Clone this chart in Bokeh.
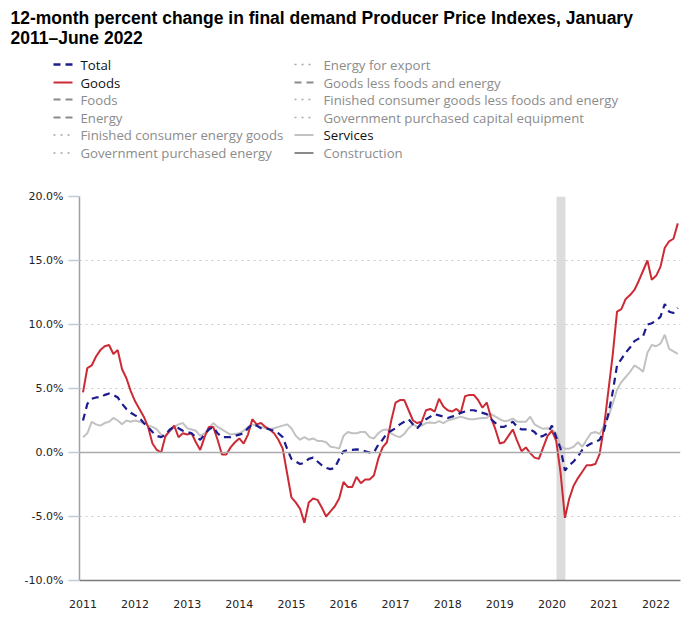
import pandas as pd
from bokeh.plotting import figure
from bokeh.models import Range1d, FixedTicker, BoxAnnotation, Span
from bokeh.layouts import column
from bokeh.embed import file_html
from bokeh.resources import INLINE
from bokeh.core.properties import value

# ---------------- data ----------------
title_lines = ["12-month percent change in final demand Producer Price Indexes, January",
               "2011\u2013June 2022"]

total = [2.5, 3.8, 4.2, 4.3, 4.3, 4.5, 4.6, 4.5, 4.3, 3.8, 3.4, 3.1,
         2.9, 2.7, 2.3, 2.0, 1.6, 1.3, 1.2, 1.4, 1.8, 2.0, 1.9, 1.7,
         1.6, 1.5, 1.2, 1.0, 1.4, 1.8, 2.0, 1.5, 1.2, 1.2, 1.2, 1.3,
         1.4, 1.5, 1.9, 2.2, 2.1, 1.9, 1.9, 1.8, 1.7, 1.5, 1.2, 0.3,
         -0.5, -0.7, -0.9, -0.8, -0.5, -0.4, -0.7, -1.0, -1.2, -1.3, -1.2, -0.5,
         0.1, 0.2, 0.2, 0.25, 0.2, 0.1, 0.0, 0.0, 0.6, 1.0, 1.5, 1.7,
         1.9, 2.2, 2.4, 2.6, 2.2, 1.9, 2.3, 2.6, 2.8, 3.0, 2.9, 2.8,
         2.7, 2.8, 2.9, 3.1, 3.2, 3.3, 3.3, 3.2, 3.1, 3.0, 2.6, 2.3,
         2.0, 2.0, 2.2, 2.4, 2.0, 1.8, 1.8, 1.8, 1.6, 1.2, 1.3, 1.5,
         2.1, 1.2, 0.3, -1.4, -1.0, -0.7, -0.3, 0.2, 0.5, 0.7, 0.8, 1.0,
         1.7, 3.0, 4.7, 6.8, 7.3, 7.8, 8.2, 8.7, 8.9, 9.1, 10.0, 10.1,
         10.3, 10.6, 11.6, 11.0, 10.9, 11.3]

goods = [4.7, 6.6, 6.8, 7.5, 8.0, 8.3, 8.4, 7.7, 8.0, 6.5, 5.8, 4.8,
         4.0, 3.4, 2.8, 2.0, 0.7, 0.2, 0.0, 1.3, 1.7, 2.1, 1.2, 1.5,
         1.4, 1.5, 0.8, 0.2, 1.2, 2.0, 2.0, 1.0, -0.15, -0.15, 0.4, 0.8,
         1.1, 0.7, 1.4, 2.6, 2.2, 2.3, 2.0, 1.8, 1.5, 1.0, 0.3, -1.6,
         -3.5, -3.9, -4.4, -5.5, -3.9, -3.6, -3.7, -4.3, -5.0, -4.6, -4.2, -3.6,
         -2.3, -2.7, -2.7, -1.9, -2.4, -2.1, -2.1, -1.8, -0.5, 0.4, 0.8, 2.5,
         3.9, 4.1, 4.1, 3.3, 2.5, 2.3, 2.4, 3.3, 3.4, 3.2, 4.2, 3.6,
         3.3, 3.2, 3.4, 3.1, 4.4, 4.5, 4.5, 4.1, 3.5, 3.9, 2.7, 1.8,
         0.7, 0.8, 1.3, 1.8, 0.9, 0.1, 0.4, -0.05, -0.4, -0.5, 0.4, 1.3,
         1.7, 0.9, -1.6, -5.1, -3.6, -2.6, -2.0, -1.5, -1.0, -1.0, -0.9, -0.1,
         2.0, 4.8, 7.6, 11.0, 11.2, 12.0, 12.3, 12.7, 13.4, 14.2, 15.0, 13.5,
         13.8, 14.5, 16.0, 16.5, 16.7, 17.9]

services = [1.2, 1.5, 2.4, 2.2, 2.1, 2.3, 2.4, 2.7, 2.5, 2.2, 2.5, 2.4,
            2.5, 2.4, 2.3, 2.1, 2.0, 1.8, 1.4, 1.2, 1.7, 2.0, 2.2, 2.3,
            1.9, 1.8, 1.7, 1.3, 1.5, 1.9, 2.3, 2.0, 1.8, 1.6, 1.4, 1.45,
            1.5, 1.7, 2.0, 2.2, 2.1, 2.0, 1.9, 1.8, 1.9, 2.0, 2.1, 2.2,
            1.9, 1.3, 1.0, 1.2, 1.0, 1.1, 0.9, 0.9, 0.8, 0.45, 0.4, 0.3,
            1.3, 1.6, 1.5, 1.5, 1.6, 1.6, 1.2, 1.1, 1.5, 1.75, 1.8, 1.5,
            1.3, 1.2, 1.45, 1.9, 2.2, 2.0, 2.1, 2.3, 2.35, 2.3, 2.45, 2.3,
            2.5, 2.6, 2.7, 2.8, 2.7, 2.6, 2.6, 2.65, 2.7, 2.7, 3.0, 2.8,
            2.6, 2.45, 2.5, 2.65, 2.4, 2.4, 2.4, 2.8, 2.2, 2.0, 1.85, 1.9,
            1.8, 1.5, 0.5, 0.3, 0.3, 0.45, 0.8, 0.45, 1.0, 1.5, 1.6, 1.45,
            2.1, 2.8, 3.8, 4.9, 5.5, 5.9, 6.3, 6.8, 6.6, 6.3, 7.8, 8.4,
            8.3, 8.5, 9.2, 8.1, 7.9, 7.7]

year_ticks = list(range(2011, 2023))
pct_ticks = [-10, -5, 0, 5, 10, 15, 20]
recession = ("2020-02-01", "2020-04-01")

legend_col1 = ["Total", "Goods", "Foods", "Energy",
               "Finished consumer energy goods", "Government purchased energy"]
legend_col2 = ["Energy for export", "Goods less foods and energy",
               "Finished consumer goods less foods and energy",
               "Government purchased capital equipment", "Services", "Construction"]

assert len(total) == len(goods) == len(services) == 138

months = pd.date_range("2011-01-01", periods=len(total), freq="MS")
xs = list(months.year + (months.month - 1) / 12.0)

def frac_year(s):
    d = pd.Timestamp(s)
    return d.year + (d.month - 1) / 12.0

# ---------------- styles ----------------
RED = "#cc2b36"
NAVY = "#1c1c8f"
LGRAY = "#c2c2c2"
MGRAY = "#8a8a8a"
DGRAY = "#a8a8a8"
TXT_ON = "#111111"
TXT_OFF = "#8c8c8c"

# styles of legend entries: (line color, dash, width, text color)
style_col1 = [(NAVY, "7 5", 2.5, TXT_ON), (RED, "solid", 2, TXT_ON),
              (MGRAY, "7 5", 2, TXT_OFF), (MGRAY, "7 5", 2, TXT_OFF),
              (DGRAY, "2 5", 1.5, TXT_OFF), (DGRAY, "2 5", 1.5, TXT_OFF)]
style_col2 = [(DGRAY, "2 5", 1.5, TXT_OFF), (MGRAY, "7 5", 2, TXT_OFF),
              (DGRAY, "2 5", 1.5, TXT_OFF), (DGRAY, "2 5", 1.5, TXT_OFF),
              (LGRAY, "solid", 2, TXT_ON), (MGRAY, "solid", 2, TXT_OFF)]

# ---------------- header (title + legend) ----------------
HEAD_H = 178
head = figure(width=699, height=HEAD_H, x_range=Range1d(0, 699), y_range=Range1d(HEAD_H, 0),
              output_backend="svg", toolbar_location=None, min_border=0,
              x_axis_type=None, y_axis_type=None)
head.grid.visible = False
head.outline_line_color = None
try:
    head.frame_align = False
except Exception:
    pass

head.text(x=[10, 10], y=[17, 37], text=title_lines, text_font=value("Liberation Sans"),
          text_font_style="bold", text_font_size="17.5px", text_baseline="middle",
          text_align="left", text_color="#000000")

row_y = [64, 82, 99, 117, 134.5, 152.5]
for (labels, styles, mx0, mx1, tx) in [(legend_col1, style_col1, 53, 72, 80),
                                       (legend_col2, style_col2, 294, 313, 323)]:
    for lab, (lc, dash, lw, tc), yy in zip(labels, styles, row_y):
        head.line(x=[mx0, mx1], y=[yy, yy], line_color=lc, line_dash=dash, line_width=lw)
        head.text(x=[tx], y=[yy], text=[lab], text_font=value("Open Sans"),
                  text_font_size="13.2px", text_baseline="middle", text_align="left",
                  text_color=tc)

# ---------------- chart ----------------
PX_PER_YEAR = 52.1
x_left = 2011 - 3.5 / PX_PER_YEAR
x_right = 2011 + (680 - 82.5) / PX_PER_YEAR

p = figure(width=699, height=440, x_range=Range1d(x_left, x_right), y_range=Range1d(-10, 20),
           output_backend="svg", toolbar_location=None,
           min_border_left=79, min_border_right=19, min_border_top=18, min_border_bottom=38)
p.outline_line_color = None
p.background_fill_color = "white"
p.border_fill_color = "white"
try:
    p.frame_align = False
except Exception:
    pass

p.xgrid.visible = False
p.ygrid.ticker = FixedTicker(ticks=[t for t in pct_ticks if t not in (0, -10)])
p.ygrid.grid_line_color = "#c8c8c8"
p.ygrid.grid_line_dash = "2 4"
p.ygrid.grid_line_width = 1.2

p.add_layout(BoxAnnotation(left=frac_year(recession[0]) + 0.005, right=frac_year(recession[1]) + 0.01,
                           fill_color="#dcdcdc", fill_alpha=1.0, line_color=None, level="underlay"))
p.add_layout(Span(location=0, dimension="width", line_color="#ababab", line_width=1.5))

p.line(xs, services, line_color=LGRAY, line_width=2)
p.line(xs, goods, line_color=RED, line_width=2)
p.line(xs, total, line_color=NAVY, line_width=2.2, line_dash="7 5")

# x axis
p.xaxis.ticker = FixedTicker(ticks=year_ticks)
p.xaxis.major_label_overrides = {y: str(y) for y in year_ticks}
p.xaxis.axis_line_color = "#7a7a7a"
p.xaxis.axis_line_width = 1.5
p.xaxis.major_tick_out = 0
p.xaxis.major_tick_in = 0
p.xaxis.minor_tick_out = 0
p.xaxis.minor_tick_in = 0
p.xaxis.major_label_standoff = 19
p.xaxis.major_label_text_font = "DejaVu Sans"
p.xaxis.major_label_text_font_size = "11px"
p.xaxis.major_label_text_color = "#222222"

# y axis
p.yaxis.ticker = FixedTicker(ticks=pct_ticks)
p.yaxis.major_label_overrides = {v: f"{v:.1f}%" for v in pct_ticks}
p.yaxis.axis_line_color = "#a0a0a0"
p.yaxis.axis_line_width = 1.5
p.yaxis.major_tick_out = 11
p.yaxis.major_tick_in = 0
p.yaxis.major_tick_line_color = "#c3cbd8"
p.yaxis.major_tick_line_width = 1.5
p.yaxis.minor_tick_out = 0
p.yaxis.minor_tick_in = 0
p.yaxis.major_label_standoff = 5
p.yaxis.major_label_text_font = "DejaVu Sans"
p.yaxis.major_label_text_font_size = "11px"
p.yaxis.major_label_text_color = "#222222"

layout = column(head, p, spacing=0)
open("out.html", "w").write(file_html(layout, INLINE))
